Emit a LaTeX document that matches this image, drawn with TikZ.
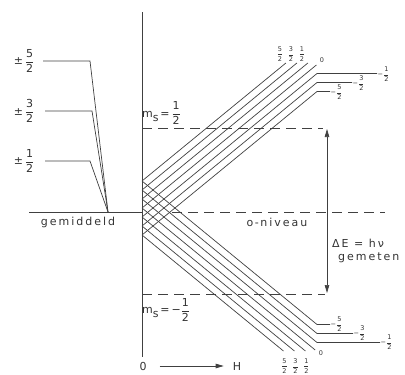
\documentclass[tikz,border=0pt]{standalone}
\usepackage{amsmath}
\usepackage{fontspec}
\setmainfont{DejaVu Sans}[LetterSpace=18]
\usetikzlibrary{arrows.meta}

\newcommand{\hfrac}[2]{$\genfrac{}{}{0.5pt}{0}{\mbox{#1}}{\mbox{#2}}$}

\tikzset{
  zline/.style={draw=black!75, line width=0.7pt},
  dashline/.style={draw=black!75, line width=0.7pt, dash pattern=on 10pt off 6pt},
  lbl/.style={text=black!80, inner sep=1pt, font=\fontsize{11}{13}\selectfont},
  smalllbl/.style={text=black!80, inner sep=0.5pt, font=\fontsize{6.5}{7}\selectfont},
  arrowtip/.style={-{Triangle[length=8pt,width=4.5pt]}},
  arrowboth/.style={{Triangle[length=8pt,width=4.5pt]}-{Triangle[length=8pt,width=4.5pt]}}
}

\begin{document}
\begin{tikzpicture}[x=1pt,y=-1pt]
    \useasboundingbox (0,0) rectangle (405,375);

    \coordinate (axtop) at (142,12);
    \coordinate (axbot) at (142,357);
    \draw[zline] (axtop) -- (axbot);
    \node[lbl] (zero) at (143,366) {0};
    \node[lbl] (hlbl) at (237,366) {H};
    \draw[zline, arrowtip, shorten <=12pt, shorten >=8pt] (zero) -- (hlbl);

    \coordinate (gmleft) at (29,212);
    \coordinate (gmaxis) at (142,212);
    \coordinate (conv) at (108,212);
    \draw[zline] (gmleft) -- (gmaxis);
    \node[lbl] (gemiddeld) at (78,222) {gemiddeld};

    \foreach \n/\y/\xs/\xe in {5/61/43/90, 3/111/45/92, 1/161/45/90} {
        \node[lbl] (lev\n) at (24,\y) {±\,\hfrac{\n}{2}};
        \coordinate (la\n) at (\xs,\y);
        \coordinate (lb\n) at (\xe,\y);
        \draw[zline] (la\n) -- (lb\n) -- (conv);
    }

    \coordinate (msup) at (142,128);
    \coordinate (msupend) at (323,128);
    \draw[dashline] (msup) -- (msupend);
    \node[lbl, anchor=south west] (msuplbl) at (141,126) {m\raisebox{-4pt}{s}\,=\,\hfrac{1}{2}};

    \coordinate (msdn) at (142,294);
    \coordinate (msdnend) at (325,294);
    \draw[dashline] (msdn) -- (msdnend);
    \node[lbl, anchor=north west] (msdnlbl) at (141,297) {m\raisebox{-4pt}{s}\,=\,−\hfrac{1}{2}};

    \coordinate (nulstart) at (172,212);
    \coordinate (nulend) at (385,212);
    \draw[dashline] (nulstart) -- (nulend);
    \node[lbl] (niveau) at (277,222) {o{\kern1.5pt}-{\kern1.5pt}niveau};

    \coordinate (detop) at (327,129);
    \coordinate (debot) at (327,293);
    \draw[zline, arrowboth] (detop) -- (debot);
    \node[lbl, anchor=west] (delbl) at (331,243) {ΔE = hν};
    \node[lbl, anchor=west] (gemeten) at (337,258) {gemeten};

    \foreach \k in {0,...,6} {
        \pgfmathsetmacro{\s}{181+9*\k}
        \coordinate (st\k) at (142,\s);
    }

    \foreach \k/\lab in {0/5, 1/3, 2/1} {
        \pgfmathsetmacro{\xe}{142+(181+9*\k-63)/0.82}
        \coordinate (ue\k) at (\xe,63);
        \draw[zline] (st\k) -- (ue\k);
        \node[smalllbl] (ul\k) at (\xe-6,54) {\hfrac{\lab}{2}};
    }
    \coordinate (ue3) at (316.4,65);
    \draw[zline] (st3) -- (ue3);
    \node[smalllbl] (ul3) at (322,60) {0};
    \foreach \k/\lab/\xr in {4/1/377, 5/3/352, 6/5/330} {
        \pgfmathsetmacro{\yb}{181+9*\k-143.5}
        \coordinate (ub\k) at (317,\yb);
        \coordinate (ur\k) at (\xr,\yb);
        \draw[zline] (st\k) -- (ub\k) -- (ur\k);
        \node[smalllbl, anchor=west] (url\k) at ([yshift=-1pt]ur\k) {−\hfrac{\lab}{2}};
    }

    \foreach \k/\lab/\xr in {0/5/330, 1/3/353, 2/1/380} {
        \pgfmathsetmacro{\yb}{181+9*\k+143.5}
        \coordinate (db\k) at (317,\yb);
        \coordinate (dr\k) at (\xr,\yb);
        \draw[zline] (st\k) -- (db\k) -- (dr\k);
        \node[smalllbl, anchor=west] (drl\k) at (dr\k) {−\hfrac{\lab}{2}};
    }
    \coordinate (de3) at (315.2,350);
    \draw[zline] (st3) -- (de3);
    \node[smalllbl] (dl3) at (321,353) {0};
    \foreach \k/\lab in {4/1, 5/3, 6/5} {
        \pgfmathsetmacro{\xe}{142+(351-181-9*\k)/0.82}
        \coordinate (de\k) at (\xe,351);
        \draw[zline] (st\k) -- (de\k);
        \node[smalllbl] (dl\k) at (\xe+1,366) {\hfrac{\lab}{2}};
    }
\end{tikzpicture}
\end{document}
